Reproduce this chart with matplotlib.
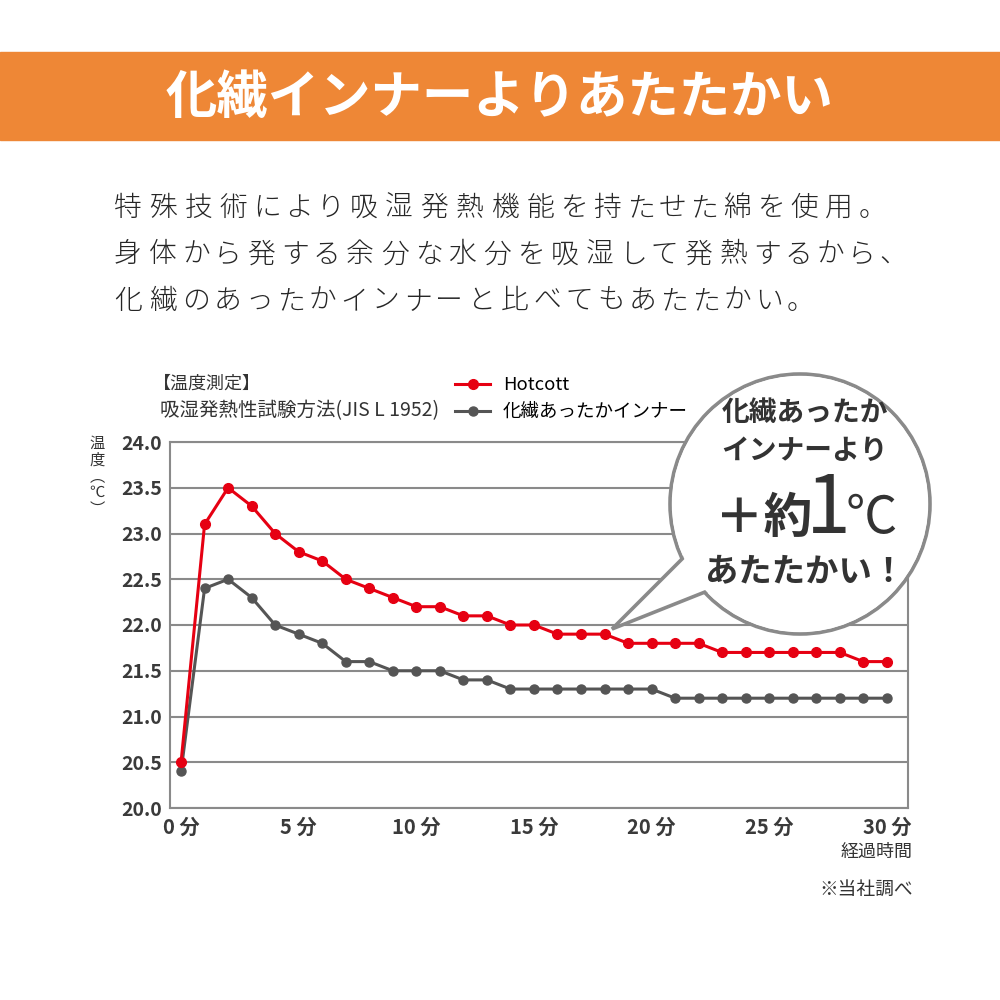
import matplotlib
matplotlib.use('Agg')
import matplotlib.pyplot as plt
from matplotlib.patches import Rectangle, Circle, Polygon

plt.rcParams['font.family'] = ['Noto Sans CJK JP', 'DejaVu Sans']

# データ（経過時間：分、温度：℃）
minutes = list(range(0, 31))
hotcott = [20.5, 23.1, 23.5, 23.3, 23.0, 22.8, 22.7, 22.5, 22.4, 22.3,
           22.2, 22.2, 22.1, 22.1, 22.0, 22.0, 21.9, 21.9, 21.9, 21.8,
           21.8, 21.8, 21.8, 21.7, 21.7, 21.7, 21.7, 21.7, 21.7, 21.6, 21.6]
kasen = [20.4, 22.4, 22.5, 22.3, 22.0, 21.9, 21.8, 21.6, 21.6, 21.5,
         21.5, 21.5, 21.4, 21.4, 21.3, 21.3, 21.3, 21.3, 21.3, 21.3,
         21.3, 21.2, 21.2, 21.2, 21.2, 21.2, 21.2, 21.2, 21.2, 21.2, 21.2]

x_ticks = [0, 5, 10, 15, 20, 25, 30]
x_labels = ['0 分', '5 分', '10 分', '15 分', '20 分', '25 分', '30 分']
y_ticks = [20.0, 20.5, 21.0, 21.5, 22.0, 22.5, 23.0, 23.5, 24.0]

title = '化繊インナーよりあたたかい'
body = ['特殊技術により吸湿発熱機能を持たせた綿を使用。',
        '身体から発する余分な水分を吸湿して発熱するから、',
        '化繊のあったかインナーと比べてもあたたかい。']

RED = '#e60012'
GRAY = '#555555'
LINE = '#8a8a8a'
TXT = '#333333'

fig = plt.figure(figsize=(10, 10), dpi=100)

# グラフ本体
ax = fig.add_axes([0.170, 0.192, 0.738, 0.366])
ax.plot(minutes, hotcott, color=RED, lw=2.2, marker='o', ms=7, label='Hotcott', zorder=4)
ax.plot(minutes, kasen, color=GRAY, lw=2.2, marker='o', ms=6.5, label='化繊あったかインナー', zorder=3)
ax.set_xlim(-0.47, 30.9)
ax.set_ylim(20.0, 24.0)
ax.set_yticks(y_ticks)
ax.set_yticklabels([f'{v:.1f}' for v in y_ticks], fontsize=14, fontweight='bold', color='#3a3a3a')
ax.set_xticks(x_ticks)
ax.set_xticklabels(x_labels, fontsize=14.5, fontweight='bold', color='#3a3a3a')
ax.tick_params(length=0, pad=6)
ax.grid(axis='y', color=LINE, lw=1.5)
ax.set_axisbelow(True)
for s in ax.spines.values():
    s.set_color(LINE)
    s.set_linewidth(1.5)

ax.legend(loc='upper left', bbox_to_anchor=(0.455, 0.624), bbox_transform=fig.transFigure,
          frameon=False, fontsize=13.3, handlelength=1.9, handletextpad=0.7,
          labelspacing=0.5, borderpad=0, borderaxespad=0)

# 上に重ねる描画用の領域（ピクセル座標）
ov = fig.add_axes([0, 0, 1, 1])
ov.set_xlim(0, 1000)
ov.set_ylim(1000, 0)
ov.axis('off')
ov.patch.set_alpha(0)

ov.add_patch(Rectangle((0, 52), 1000, 88, color='#ee8736', zorder=1))
ov.text(500, 97, title, color='white', fontsize=37, fontweight='bold',
        ha='center', va='center', zorder=2)


def spaced_text(x, y, s, **kw):
    # 漢字は広め、かなは狭めに字送り
    for ch in s:
        step = 35.3 if ord(ch) >= 0x4E00 else 31.6
        ov.text(x + step / 2, y, ch, ha='center', va='center', **kw)
        x += step


for i, line in enumerate(body):
    spaced_text(110, 208 + i * 46.5, line, fontsize=20, fontweight='light', color='#262626')

ov.text(153, 384, '【温度測定】', fontsize=13, color=TXT, va='center', ha='left')
ov.text(160, 411, '吸湿発熱性試験方法(JIS L 1952)', fontsize=14, color=TXT, va='center', ha='left')
ov.text(97, 435, '温\n度\n︵\n℃\n︶', fontsize=11, color=TXT, ha='center', va='top', linespacing=0.95)
ov.text(913, 852, '経過時間', fontsize=13, color=TXT, ha='right', va='center')
ov.text(913, 889, '※当社調べ', fontsize=13.5, color=TXT, ha='right', va='center')

# 吹き出し
cx, cy, r = 800, 504, 130
ov.add_patch(Circle((cx, cy), r, facecolor='white', edgecolor=LINE, lw=2.6, zorder=5))
ov.add_patch(Polygon([(686, 555), (612, 629), (710, 590)], closed=True,
                     facecolor='white', edgecolor=LINE, lw=2.6, joinstyle='miter', zorder=6))
ov.add_patch(Circle((cx, cy), r - 2, facecolor='white', edgecolor='none', zorder=7))

ov.text(805, 413, '化繊あったか', fontsize=20, fontweight='bold', color=TXT, ha='center', va='center', zorder=8)
ov.text(805, 451, 'インナーより', fontsize=20, fontweight='bold', color=TXT, ha='center', va='center', zorder=8)
ov.text(812, 533, '＋約', fontsize=35, fontweight='bold', color=TXT, ha='right', va='baseline', zorder=8)
ov.text(828, 533, '1', fontsize=58, color=TXT, ha='center', va='baseline', zorder=8)
ov.text(846, 533, '℃', fontsize=37, color=TXT, ha='left', va='baseline', zorder=8)
ov.text(805, 572, 'あたたかい！', fontsize=24, fontweight='bold', color=TXT, ha='center', va='center', zorder=8)

fig.savefig('out.png', dpi=100, facecolor='white')
